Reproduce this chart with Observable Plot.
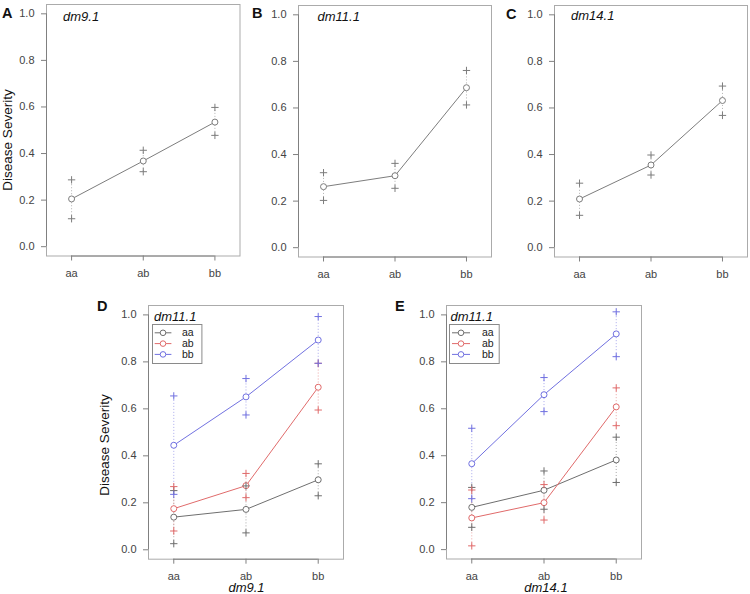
<!DOCTYPE html>
<html><head><meta charset="utf-8">
<script src="https://cdn.jsdelivr.net/npm/d3@7"></script>
<script src="https://cdn.jsdelivr.net/npm/@observablehq/plot@0.6"></script>
<style>
body{margin:0;background:#fff;}
#root{position:relative;width:750px;height:594px;overflow:hidden;font-family:"Liberation Sans",Arial,Helvetica,sans-serif;background:#fff;}
.abs{position:absolute;white-space:nowrap;line-height:1;color:#111;}
</style></head><body><div id="root"></div>
<script>
const genotypes = ["aa","ab","bb"];
const groups = ["aa","ab","bb"];
const yTicks = [0, 0.2, 0.4, 0.6, 0.8, 1.0];
const xTicks = [1, 2, 3];
const xDomain = [0.65, 3.35];
const yDomain = [-0.04, 1.04];

// Panel A: dm9.1
const meanA = [0.205, 0.368, 0.535];
const loA   = [0.120, 0.322, 0.478];
const hiA   = [0.287, 0.414, 0.598];
// Panel B: dm11.1
const meanB = [0.262, 0.309, 0.687];
const loB   = [0.203, 0.255, 0.613];
const hiB   = [0.322, 0.362, 0.761];
// Panel C: dm14.1
const meanC = [0.209, 0.355, 0.632];
const loC   = [0.139, 0.312, 0.568];
const hiC   = [0.277, 0.398, 0.694];
// Panel D: x = dm9.1, groups = dm11.1
const meanD_aa = [0.139, 0.172, 0.298];
const loD_aa   = [0.026, 0.072, 0.230];
const hiD_aa   = [0.252, 0.272, 0.366];
const meanD_ab = [0.175, 0.273, 0.692];
const loD_ab   = [0.080, 0.222, 0.595];
const hiD_ab   = [0.269, 0.325, 0.794];
const meanD_bb = [0.445, 0.651, 0.893];
const loD_bb   = [0.236, 0.574, 0.794];
const hiD_bb   = [0.655, 0.729, 0.993];
// Panel E: x = dm14.1, groups = dm11.1
const meanE_aa = [0.180, 0.253, 0.382];
const loE_aa   = [0.095, 0.172, 0.286];
const hiE_aa   = [0.265, 0.335, 0.479];
const meanE_ab = [0.135, 0.200, 0.608];
const loE_ab   = [0.016, 0.126, 0.528];
const hiE_ab   = [0.254, 0.277, 0.689];
const meanE_bb = [0.366, 0.660, 0.919];
const loE_bb   = [0.217, 0.588, 0.822];
const hiE_bb   = [0.517, 0.733, 1.013];

const singleColor = ["#7d7d7d"];
const groupColors = ["#6e6e6e", "#e06a6a", "#7070e0"];
const FONT = '"Liberation Sans", Arial, Helvetica, sans-serif';
const root = document.getElementById("root");

function panel({left, top, w, h, series, colors}) {
  const ml = 46, mr = 2, mt = 2, mb = 40;
  const rows = [];
  series.forEach(s => s.mean.forEach((m, i) => rows.push({s: s.name, x: xTicks[i], mean: m, lo: s.lo[i], hi: s.hi[i]})));
  const pluses = rows.flatMap(d => [{s: d.s, x: d.x, y: d.lo}, {s: d.s, x: d.x, y: d.hi}]);
  const svg = Plot.plot({
    width: w + ml + mr, height: h + mt + mb,
    marginLeft: ml, marginRight: mr, marginTop: mt, marginBottom: mb,
    style: {background: "transparent", fontFamily: FONT, fontSize: "11px", overflow: "visible", maxWidth: "none"},
    x: {domain: xDomain, label: null},
    y: {domain: yDomain, label: null},
    color: {domain: series.map(s => s.name), range: colors},
    marks: [
      Plot.frame({stroke: "#ababab"}),
      Plot.ruleX([xDomain[0]], {y1: yTicks[0], y2: yTicks[yTicks.length - 1], stroke: "#808080"}),
      Plot.ruleY([yDomain[0]], {x1: xTicks[0], x2: xTicks[xTicks.length - 1], stroke: "#808080"}),
      Plot.axisY(yTicks, {tickFormat: d3.format(".1f"), tickSize: 5, tickPadding: 7, stroke: "#808080", fill: "#444", label: null}),
      Plot.axisX(xTicks, {tickFormat: d => genotypes[d - 1], tickSize: 5, tickPadding: 8, stroke: "#808080", fill: "#444", label: null}),
      Plot.ruleX(rows, {x: "x", y1: "lo", y2: "hi", stroke: "s", strokeDasharray: "1,2", strokeOpacity: 0.6}),
      Plot.line(rows, {x: "x", y: "mean", z: "s", stroke: "s", strokeWidth: 1}),
      Plot.dot(rows, {x: "x", y: "mean", r: 3, stroke: "s", fill: "white", strokeWidth: 1}),
      Plot.dot(pluses, {x: "x", y: "y", symbol: "plus", r: 2.5, stroke: "s", strokeWidth: 1})
    ]
  });
  const div = document.createElement("div");
  div.style.cssText = `position:absolute;left:${left - ml}px;top:${top - mt}px;`;
  div.appendChild(svg);
  root.appendChild(div);
}

function text(str, x, baseline, size, {bold = false, italic = false, center = false, color = "#111"} = {}) {
  const d = document.createElement("div");
  d.className = "abs";
  d.textContent = str;
  d.style.fontSize = size + "px";
  d.style.left = x + "px";
  d.style.top = (baseline - 0.8465 * size) + "px";
  d.style.color = color;
  if (bold) d.style.fontWeight = "bold";
  if (italic) d.style.fontStyle = "italic";
  if (center) d.style.transform = "translateX(-50%)";
  root.appendChild(d);
}

function vtext(str, cx, cy, size) {
  const d = document.createElement("div");
  d.className = "abs";
  d.textContent = str;
  d.style.fontSize = size + "px";
  d.style.left = cx + "px";
  d.style.top = cy + "px";
  d.style.transform = "translate(-50%,-50%) rotate(-90deg)";
  root.appendChild(d);
}

function legend(left, top, w, h, lx1, lx2, cx, tx) {
  const svg = d3.create("svg").attr("width", w + 2).attr("height", h + 2)
    .style("position", "absolute").style("left", left + "px").style("top", top + "px").style("overflow", "visible");
  svg.append("rect").attr("x", 0.5).attr("y", 0.5).attr("width", w).attr("height", h)
    .attr("fill", "white").attr("stroke", "#8a8a8a");
  const ys = [8.8, 19.6, 30.4];
  groups.forEach((g, i) => {
    const y = ys[i];
    svg.append("line").attr("x1", lx1).attr("x2", lx2).attr("y1", y).attr("y2", y).attr("stroke", groupColors[i]);
    svg.append("circle").attr("cx", cx).attr("cy", y).attr("r", 2.8).attr("fill", "white").attr("stroke", groupColors[i]);
    svg.append("text").attr("x", tx).attr("y", y + 3.2).attr("font-size", 10.5).attr("font-family", FONT).attr("fill", "#222").text(g);
  });
  root.appendChild(svg.node());
}

panel({left: 46, top: 4, w: 193.5, h: 251.5, colors: singleColor,
  series: [{name: "all", mean: meanA, lo: loA, hi: hiA}]});
panel({left: 298, top: 5, w: 193, h: 251.5, colors: singleColor,
  series: [{name: "all", mean: meanB, lo: loB, hi: hiB}]});
panel({left: 554, top: 4.5, w: 193, h: 251.5, colors: singleColor,
  series: [{name: "all", mean: meanC, lo: loC, hi: hiC}]});
panel({left: 148, top: 305, w: 195, h: 253.7, colors: groupColors,
  series: [
    {name: "aa", mean: meanD_aa, lo: loD_aa, hi: hiD_aa},
    {name: "ab", mean: meanD_ab, lo: loD_ab, hi: hiD_ab},
    {name: "bb", mean: meanD_bb, lo: loD_bb, hi: hiD_bb}]});
panel({left: 446, top: 305, w: 195, h: 253.5, colors: groupColors,
  series: [
    {name: "aa", mean: meanE_aa, lo: loE_aa, hi: hiE_aa},
    {name: "ab", mean: meanE_ab, lo: loE_ab, hi: hiE_ab},
    {name: "bb", mean: meanE_bb, lo: loE_bb, hi: hiE_bb}]});

// panel letters
text("A", 2, 18.3, 14.5, {bold: true});
text("B", 252, 18.3, 14.5, {bold: true});
text("C", 506, 19, 14.5, {bold: true});
text("D", 97, 311.5, 14.5, {bold: true});
text("E", 395, 311.5, 14.5, {bold: true});
// panel titles
text("dm9.1", 63, 20.7, 13, {italic: true});
text("dm11.1", 317.5, 20.7, 13, {italic: true});
text("dm14.1", 571, 20.5, 13, {italic: true});
text("dm11.1", 154, 320.7, 13, {italic: true});
text("dm11.1", 450.5, 320.7, 13, {italic: true});
// axis titles
vtext("Disease Severity", 7.5, 140, 13.5);
vtext("Disease Severity", 105, 445, 13.5);
text("dm9.1", 246.5, 592.5, 13, {italic: true, center: true});
text("dm14.1", 546, 592.5, 13, {italic: true, center: true});
// legends
legend(152.3, 324.3, 49.4, 39, 2.7, 19.4, 11, 30);
legend(449, 324.3, 49.7, 39, 3, 21, 12, 33);
</script></body></html>
